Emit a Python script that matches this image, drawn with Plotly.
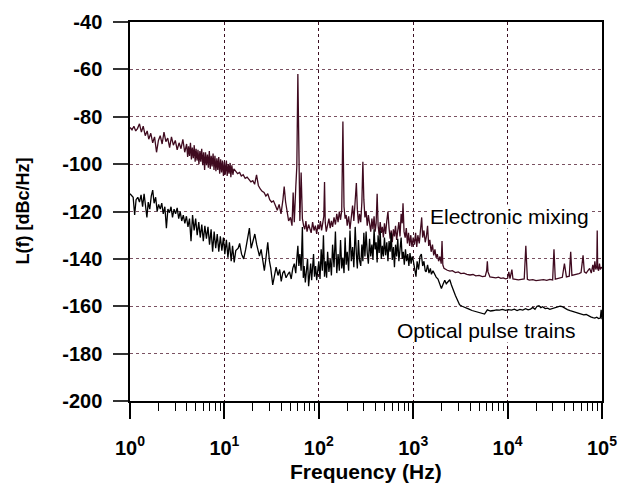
import plotly.graph_objects as go

# ---------------- data ----------------
# Electronic mixing (maroon trace), frequency in Hz, L(f) in dBc/Hz
em_freq_a = [1.00, 1.05, 1.10, 1.15, 1.20, 1.26, 1.32, 1.38, 1.45, 1.52,
             1.58, 1.66, 1.74, 1.82, 1.91, 2.00, 2.09, 2.19, 2.29, 2.40,
             2.51, 2.63, 2.75, 2.88, 3.02, 3.16, 3.31, 3.47, 3.63, 3.80,
             3.98, 4.08, 4.17, 4.27, 4.37, 4.47, 4.57, 4.68, 4.79, 4.90,
             5.01, 5.13, 5.25, 5.37, 5.50, 5.62, 5.75, 5.89, 6.03, 6.17,
             6.31, 6.46, 6.61, 6.76, 6.92, 7.08, 7.24, 7.41, 7.59, 7.76,
             7.94, 8.13, 8.32, 8.51, 8.71, 8.91, 9.12, 9.33, 9.55, 9.77,
             10.0, 10.2, 10.5, 10.7, 11.0, 11.2, 11.5, 11.7, 12.0, 12.3, 12.6]
em_dbc_a = [-84.5, -85.5, -84.0, -86.0, -85.0, -83.0, -86.5, -84.0, -88.0, -86.0,
            -89.5, -87.0, -91.0, -88.5, -95.0, -90.0, -88.0, -91.5, -86.5, -90.5,
            -89.0, -93.0, -88.5, -92.0, -90.0, -94.0, -91.0, -93.5, -89.5, -95.0,
            -91.5, -97.0, -92.5, -96.5, -91.0, -98.0, -93.0, -97.5, -92.0, -99.0,
            -93.5, -98.5, -94.0, -100.0, -94.5, -99.0, -93.5, -100.5, -95.0, -102.5,
            -95.0, -100.5, -96.0, -101.5, -94.5, -102.0, -96.5, -101.0, -95.5, -102.5,
            -96.5, -103.0, -97.5, -102.5, -97.0, -104.0, -98.0, -103.5, -98.5, -105.0,
            -99.0, -104.5, -98.5, -105.0, -100.0, -104.0, -99.5, -105.5, -100.5, -104.5, -102.0]

em_freq_b = [13.2, 13.8, 14.5, 15.1, 15.8, 16.6, 17.4, 18.2, 19.1, 20.0,
             20.9, 21.9, 22.9, 24.0, 25.1, 26.3, 27.5, 28.8, 30.2, 31.6,
             33.1, 34.7, 36.3, 38.0, 39.8, 41.7, 43.0, 44.5, 46.0, 47.9,
             50.1, 52.0, 53.5, 55.0, 57.0, 58.5, 60.0, 61.5, 63.0, 65.0,
             67.0, 69.0]
em_dbc_b = [-103.0, -104.0, -103.5, -105.0, -104.5, -106.0, -105.5, -106.5, -107.5, -107.0,
            -108.5, -104.5, -109.0, -110.5, -111.5, -112.0, -113.5, -112.5, -115.0, -116.0,
            -115.5, -117.5, -119.5, -117.0, -121.0, -115.0, -109.5, -116.0, -120.5, -124.0,
            -122.5, -126.0, -112.0, -124.5, -110.0, -101.0, -62.0, -108.0, -124.0, -103.5,
            -123.0, -126.0]

em_freq_c = [71, 73, 75, 78, 80, 83, 86, 89, 92, 95,
             98, 101, 104, 107, 110, 113, 115, 117, 120, 124,
             128, 132, 136, 140, 145, 150, 155, 160, 165, 170,
             175, 180, 185, 190, 195, 200, 207, 214, 221, 228,
             235, 243, 250, 256, 263, 270, 278, 286, 293, 300,
             308, 317, 326, 335, 345, 355, 365, 375, 385, 395,
             405, 415, 425, 436, 447, 459, 471, 483, 496, 510,
             525, 540, 555, 570, 585, 600, 617, 633, 650, 668,
             686, 705, 725, 745, 765, 780, 800, 822, 845, 868,
             892, 917, 943, 970, 1000, 1030, 1060, 1090, 1120, 1160,
             1200, 1230, 1260, 1300, 1340, 1380, 1420, 1460, 1500, 1550,
             1600, 1650, 1700, 1750, 1800, 1860, 1920, 1980, 2020, 2060,
             2120, 2200]
em_dbc_c = [-127.5, -124.0, -128.5, -125.5, -127.0, -129.0, -124.5, -128.0, -126.0, -129.5,
            -125.5, -127.5, -124.0, -128.0, -125.0, -122.0, -107.5, -124.5, -128.5, -125.0,
            -123.0, -127.0, -124.0, -126.5, -122.5, -125.5, -121.0, -124.5, -120.0, -123.5,
            -119.5, -82.0, -118.0, -123.0, -121.5, -126.0, -122.0, -127.5, -120.5, -117.5,
            -124.0, -115.0, -108.0, -119.0, -125.0, -121.0, -124.5, -116.0, -99.0, -115.0,
            -122.5, -120.0, -126.0, -121.5, -125.5, -128.5, -123.0, -127.5, -122.0, -128.5,
            -125.0, -112.5, -126.0, -130.0, -124.5, -129.0, -126.5, -131.0, -125.0, -129.5,
            -124.0, -120.0, -127.0, -131.5, -128.0, -133.0, -127.5, -130.5, -126.0, -132.0,
            -128.0, -124.5, -130.5, -121.0, -125.0, -116.5, -128.5, -131.0, -127.0, -133.5,
            -129.0, -134.5, -130.0, -135.0, -131.0, -134.0, -129.0, -135.0, -130.0, -133.5,
            -127.0, -122.5, -131.0, -128.0, -133.0, -130.5, -126.0, -134.5, -132.0, -137.0,
            -134.0, -138.5, -136.0, -139.5, -138.0, -141.0, -139.0, -142.0, -132.5, -142.5,
            -144.0, -144.5]

em_freq_d = [2300, 2450, 2600, 2800, 3000, 3200, 3450, 3700, 4000, 4300,
             4600, 5000, 5400, 5800, 6000, 6100, 6200, 6500, 7000, 7500,
             8000, 8500, 9000, 9500, 10000, 10300, 10600, 11100, 11400, 12000,
             13000, 14000, 15000, 15600, 16200, 17000, 18500, 20000, 22000, 24000,
             26000, 28000, 30000, 31000, 32000, 34000, 36000, 38000, 40000, 42000,
             45000, 46600, 48000, 51000, 54000, 57000, 60000, 63000, 65000, 68000,
             71000, 74000, 77000, 80000, 82000, 84000, 86000, 88000, 89000, 90000,
             92000, 94000, 96000, 98000, 100000]
em_dbc_d = [-144.8, -145.2, -145.0, -145.8, -145.5, -146.2, -146.0, -146.5, -146.8, -146.6,
            -147.2, -147.0, -147.5, -147.3, -145.0, -141.0, -145.5, -147.6, -147.8, -148.0,
            -147.7, -148.2, -148.0, -148.4, -148.2, -145.5, -148.3, -144.5, -148.5, -148.6,
            -148.9, -148.7, -148.5, -134.5, -148.6, -149.0, -148.8, -149.2, -149.0, -148.8,
            -149.1, -148.7, -148.9, -136.0, -148.6, -148.4, -148.0, -147.8, -142.0, -147.6,
            -147.3, -137.0, -147.0, -146.8, -146.5, -146.2, -145.8, -138.5, -145.5, -146.0,
            -145.0, -144.0, -146.0, -142.5, -145.5, -141.0, -144.5, -143.0, -128.0, -144.0,
            -145.0, -142.0, -144.5, -143.5, -144.0]

# Optical pulse trains (black trace)
op_freq_a = [1.00, 1.04, 1.08, 1.12, 1.16, 1.21, 1.26, 1.31, 1.36, 1.41,
             1.46, 1.51, 1.56, 1.62, 1.68, 1.74, 1.80, 1.87, 1.94, 2.01,
             2.09, 2.17, 2.25, 2.34, 2.43, 2.52, 2.62, 2.72, 2.82, 2.93,
             3.04, 3.16, 3.28, 3.40, 3.53, 3.67, 3.81, 3.96, 4.11, 4.27,
             4.43, 4.60, 4.78, 4.96, 5.15, 5.35, 5.55, 5.76, 5.98, 6.21,
             6.45, 6.70, 6.96, 7.23, 7.50, 7.79, 8.09, 8.40, 8.72, 9.06,
             9.40, 9.76, 10.1, 10.5, 10.9, 11.3, 11.8, 12.2, 12.7, 13.2]
op_dbc_a = [-112.5, -113.5, -114.0, -121.5, -115.0, -114.0, -116.0, -113.0, -118.0, -112.5,
            -117.0, -122.5, -116.0, -119.0, -113.5, -111.0, -116.5, -114.0, -120.0, -117.0,
            -119.0, -116.5, -121.0, -118.0, -127.0, -119.0, -120.5, -118.0, -122.5, -119.0,
            -121.0, -118.5, -123.0, -120.0, -124.0, -121.5, -125.0, -122.0, -126.5, -123.0,
            -132.5, -121.5, -128.0, -123.0, -130.0, -124.5, -131.0, -125.5, -132.5, -126.0,
            -131.5, -126.5, -134.0, -127.5, -137.0, -128.5, -135.5, -129.5, -137.0, -130.5,
            -136.5, -131.0, -138.0, -132.0, -139.5, -133.0, -141.0, -134.5, -141.5, -136.5]

op_freq_b = [14.0, 14.5, 15.2, 16.0, 16.8, 17.5, 18.4, 19.2, 20.0, 21.0,
             22.0, 23.5, 24.5, 25.5, 26.5, 27.5, 28.8, 30.0, 31.0, 32.5,
             34.0, 35.3, 37.0, 38.5, 40.0, 41.5, 43.0, 45.0, 47.0, 49.0,
             51.0, 53.0, 55.0, 57.0, 58.5, 60.0, 61.5, 63.0, 65.0, 67.0,
             68.5, 70.0, 72.0, 74.0, 76.0, 78.0, 80.0, 82.0, 84.0, 86.0,
             88.0, 90.0, 92.5, 95.0, 97.5, 100, 103, 106, 109, 112,
             115, 118, 121, 124, 128, 132, 136, 140, 145, 150,
             155, 160, 165, 170, 175, 180, 185, 190, 195, 200,
             207, 214, 221, 228, 235, 243, 250, 256, 263, 270,
             278, 286, 293, 300, 308, 317, 326, 335, 345, 355,
             365, 375, 385, 395, 405, 415, 425, 436, 447, 459,
             471, 483, 496, 510, 525, 540, 555, 570, 585, 600,
             617, 633, 650, 668, 686, 705, 725, 745, 765, 785,
             805, 828, 850, 875, 900, 925, 950, 975]
op_dbc_b = [-135.5, -133.5, -138.0, -140.0, -136.0, -132.0, -127.0, -135.5, -133.0, -129.5,
            -134.0, -138.8, -136.0, -141.0, -145.0, -140.0, -133.0, -141.0, -144.0, -151.0,
            -146.0, -143.5, -147.0, -144.5, -149.5, -146.0, -145.0, -148.0, -146.5, -145.5,
            -148.5, -144.0, -142.0, -146.0, -140.0, -134.5, -143.0, -138.0, -145.0, -126.5,
            -148.0, -143.0, -150.0, -145.5, -140.0, -151.5, -146.0, -142.0, -149.0, -144.0,
            -138.0, -147.5, -143.0, -149.0, -145.0, -141.0, -148.5, -136.0, -145.0, -130.0,
            -147.5, -141.0, -148.0, -137.0, -145.5, -140.0, -147.0, -134.0, -143.5, -128.5,
            -146.0, -138.0, -145.0, -132.0, -144.0, -139.5, -146.0, -131.0, -142.5, -137.0,
            -145.0, -128.0, -141.0, -135.0, -143.5, -126.5, -138.0, -144.0, -132.0, -140.5,
            -143.0, -134.0, -141.0, -129.0, -139.0, -128.5, -137.5, -142.0, -131.5, -139.0,
            -134.0, -140.5, -127.5, -136.0, -133.0, -141.5, -130.0, -137.5, -128.0, -140.0,
            -134.5, -139.0, -131.0, -138.5, -133.0, -141.0, -132.5, -137.0, -129.0, -140.5,
            -135.0, -143.5, -134.0, -139.0, -131.5, -141.0, -136.0, -131.0, -140.0, -137.0,
            -142.5, -136.0, -141.0, -138.0, -143.0, -137.5, -142.0, -139.0]

op_freq_c = [1000, 1030, 1070, 1100, 1140, 1180, 1220, 1260, 1300, 1340,
             1370, 1420, 1470, 1520, 1560, 1620, 1680, 1750, 1830, 1910,
             1990, 2080, 2160, 2240, 2330, 2440, 2540, 2640, 2800, 2950,
             3100, 3300, 3600, 3900, 4200, 4600, 5000, 5400, 5700, 6100,
             6600, 7100, 7600, 8200, 8800, 9500, 10200, 11000, 11800, 12600,
             13500, 14500, 15500, 16500, 17500, 18500, 19500, 20500, 21500, 22500,
             23500, 25000, 26500, 28000, 30000, 32000, 34000, 36000, 38000, 40000,
             43000, 46000, 49000, 52000, 56000, 60000, 64000, 68000, 72000, 76000,
             80000, 84000, 88000, 92000, 96000, 98000, 100000]
op_dbc_c = [-140.5, -144.0, -147.5, -141.0, -144.5, -139.0, -138.0, -143.0, -141.0, -145.0,
            -145.5, -142.5, -146.0, -144.0, -146.5, -145.0, -146.5, -147.7, -148.5, -151.0,
            -152.5, -150.5, -149.0, -150.5, -149.5, -148.8, -151.0, -153.0, -155.5, -157.5,
            -159.4, -160.0, -160.8, -161.2, -161.8, -162.2, -162.8, -163.0, -163.3, -161.5,
            -162.0, -161.8, -161.5, -161.6, -161.3, -161.7, -161.4, -161.6, -161.2, -161.8,
            -161.3, -161.6, -161.0, -161.5, -161.2, -160.5, -161.3, -160.0, -159.8, -160.6,
            -160.2, -161.0, -160.8, -161.3, -161.0, -160.6, -160.3, -160.0, -160.2, -160.8,
            -161.4, -161.8, -162.2, -162.6, -163.0, -163.2, -163.6, -163.5, -164.2, -164.5,
            -164.8, -165.0, -164.6, -165.2, -165.0, -161.5, -165.5]

x_major = [1, 10, 100, 1000, 10000, 100000]
x_labels = ["10<sup>0</sup>", "10<sup>1</sup>", "10<sup>2</sup>",
            "10<sup>3</sup>", "10<sup>4</sup>", "10<sup>5</sup>"]
y_ticks = [-200, -180, -160, -140, -120, -100, -80, -60, -40]
y_labels = ["-200", "-180", "-160", "-140", "-120", "-100", "-80", "-60", "-40"]

# ---------------- assemble ----------------
em_freq = em_freq_a + em_freq_b + em_freq_c + em_freq_d
em_dbc = em_dbc_a + em_dbc_b + em_dbc_c + em_dbc_d
op_freq = op_freq_a + op_freq_b + op_freq_c
op_dbc = op_dbc_a + op_dbc_b + op_dbc_c
for a, b in [(em_freq_a, em_dbc_a), (em_freq_b, em_dbc_b), (em_freq_c, em_dbc_c),
             (em_freq_d, em_dbc_d), (op_freq_a, op_dbc_a), (op_freq_b, op_dbc_b),
             (op_freq_c, op_dbc_c)]:
    assert len(a) == len(b), (len(a), len(b))

x_minor = [k * 10 ** d for d in range(5) for k in range(2, 10)]

FONT = "Arial, 'Liberation Sans', Helvetica, sans-serif"
MAROON = "#3f0a1f"

fig = go.Figure()
fig.add_trace(go.Scatter(x=em_freq, y=em_dbc, mode="lines",
                         line=dict(color=MAROON, width=1.3), showlegend=False))
fig.add_trace(go.Scatter(x=op_freq, y=op_dbc, mode="lines",
                         line=dict(color="black", width=1.3), showlegend=False))

fig.update_layout(
    width=628, height=485,
    margin=dict(l=130, r=25, t=11, b=84),
    plot_bgcolor="white", paper_bgcolor="white",
    font=dict(family=FONT, color="black"),
    xaxis=dict(
        type="log", range=[0, 5],
        showline=True, linecolor="black", linewidth=1.5, mirror=True,
        ticks="outside", ticklen=16, tickwidth=1.5, tickcolor="black",
        tickmode="array", tickvals=x_major, ticktext=x_labels,
        tickfont=dict(family=FONT, size=20, color="black", weight="bold"),
        ticklabelstandoff=12,
        showgrid=True, gridcolor="#3c0f22", griddash="dot", gridwidth=1,
        zeroline=False,
        minor=dict(tickmode="array", tickvals=x_minor, ticks="outside",
                   ticklen=8, tickwidth=1.2, tickcolor="black", showgrid=False),
    ),
    yaxis=dict(
        range=[-200, -40],
        showline=True, linecolor="black", linewidth=1.5, mirror=True,
        ticks="outside", ticklen=15, tickwidth=1.5, tickcolor="#333333",
        tickmode="array", tickvals=y_ticks, ticktext=y_labels,
        tickfont=dict(family=FONT, size=20, color="black", weight="bold"),
        ticklabelstandoff=7,
        showgrid=True, gridcolor="#7a5262", griddash="dot", gridwidth=1,
        zeroline=False,
    ),
    annotations=[
        dict(text="L(f) [dBc/Hz]", xref="paper", yref="paper", x=0, y=0.5,
             xshift=-108, xanchor="center", yanchor="middle", textangle=-90,
             showarrow=False, font=dict(family=FONT, size=18, color="black", weight="bold")),
        dict(text="Frequency (Hz)", xref="paper", yref="paper", x=0.5, y=0,
             yshift=-70, xanchor="center", yanchor="middle",
             showarrow=False, font=dict(family=FONT, size=21, color="black", weight="bold")),
        dict(text="Electronic mixing", xref="x", yref="y", x=4.022, y=-122.2,
             xanchor="center", yanchor="middle", showarrow=False, bgcolor="white",
             borderpad=0, font=dict(family=FONT, size=21, color="black")),
        dict(text="Optical pulse trains", xref="x", yref="y", x=3.778, y=-170.3,
             xanchor="center", yanchor="middle", showarrow=False, bgcolor="white",
             borderpad=0, font=dict(family=FONT, size=21, color="black")),
    ],
)

fig.write_html("out.html")
